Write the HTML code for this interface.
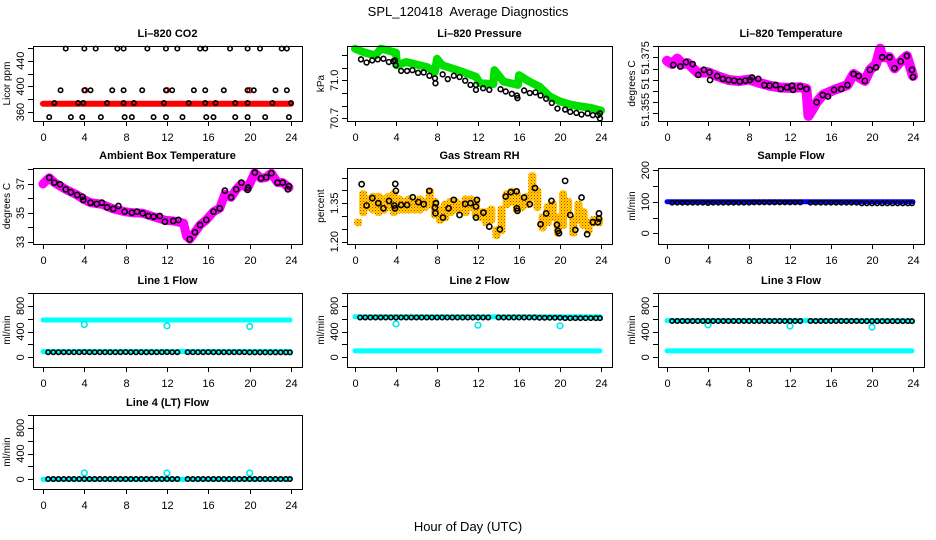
<!DOCTYPE html>
<html><head><meta charset="utf-8">
<style>
html,body{margin:0;padding:0;background:#fff;}
svg{display:block;font-family:"Liberation Sans",Arial,sans-serif;}
</style></head>
<body>
<svg id="chart" width="936" height="540" viewBox="0 0 936 540">
<defs>
<pattern id="rhpat" width="3" height="3" patternUnits="userSpaceOnUse">
<rect width="3" height="3" fill="#ffd400"/>
<rect x="0" y="0" width="1" height="1" fill="#e83000"/>
<rect x="1.5" y="1.5" width="1" height="1" fill="#f06000"/>
</pattern>
</defs>
<text x="468" y="16" text-anchor="middle" font-size="13">SPL_120418&#160; Average Diagnostics</text>
<text x="468" y="531" text-anchor="middle" font-size="13">Hour of Day (UTC)</text>
</svg>
<script>
// ---------- DATA ----------
const xTicks = [0,4,8,12,16,20,24];
// CO2
const co2RedBandStart = 0, co2RedBandEnd = 24, co2RedBandValue = 373;
const co2RedHours = [4.1,12.0,20.0];
const co2RedVals = [394,394,394];
const co2Hours = [2.2,4.0,5.1,7.2,7.8,10.1,11.9,13.0,15.2,15.7,18.1,19.8,21.0,23.1,23.6,
  1.7,4.0,4.6,6.7,7.8,9.6,11.9,12.5,14.6,15.7,17.5,19.8,20.4,22.5,23.6,
  0.6,2.7,3.8,5.6,7.9,8.6,10.7,11.9,13.5,15.8,16.5,18.6,19.8,21.5,23.8,
  1.1,3.4,3.9,6.2,7.8,8.8,11.7,14.1,15.7,16.7,18.6,19.8,22.2,24.0];
const co2Vals = [459,459,459,459,459,459,459,459,459,459,459,459,459,459,459,
  394,394,394,394,394,394,394,394,394,394,394,394,394,394,394,
  352,352,352,352,352,352,352,352,352,352,352,352,352,352,352,
  374,374,374,374,374,374,374,374,374,374,374,374,374,374];
// Pressure
const presGreenHours = [0,1,2,2.5,3,4,4.1,5,6,7,7.8,8,8.5,10,11.8,12.2,13.5,13.6,14.5,15.9,16,17,18,19,20,21,22,23,24];
const presGreenVals = [71.248,71.217,71.196,71.248,71.24,71.217,71.119,71.144,71.124,71.105,71.067,71.17,71.119,71.08,71.028,70.977,70.97,71.08,70.99,70.964,71.041,70.99,70.95,70.873,70.834,70.809,70.795,70.783,70.762];
const presHours = [0.58,1.13,1.68,2.22,2.77,3.3,3.74,3.9,3.97,4.5,5.08,5.6,6.15,6.7,7.26,7.8,7.85,8.55,9.05,9.64,10.2,10.75,11.27,11.8,11.8,12.5,13.1,14.2,14.7,15.3,15.8,15.85,16.5,17.05,17.6,18.1,18.65,19.2,19.75,20.5,21.0,21.6,22.1,22.7,23.2,23.7,23.9,23.9];
const presVals = [71.165,71.14,71.157,71.165,71.17,71.144,71.15,71.157,71.119,71.074,71.074,71.08,71.059,71.062,71.036,71.016,70.977,71.047,71.01,71.036,71.026,70.997,70.964,70.964,70.925,70.938,70.925,70.93,70.912,70.894,70.88,70.86,70.92,70.9,70.905,70.881,70.855,70.822,70.778,70.77,70.752,70.744,70.731,70.74,70.726,70.726,70.74,70.7];
// Li-820 temperature
const tempHours = [0.62,1.3,1.85,2.5,3.05,3.6,4.15,4.2,4.9,5.45,6.0,6.55,7.1,7.65,8.1,8.3,8.9,9.5,10.0,10.6,11.1,11.7,12.2,12.3,13.0,13.6,14.6,15.2,15.7,16.3,17.0,17.6,18.2,18.7,19.3,19.8,20.4,21.0,21.7,22.2,22.8,23.4,23.9,24.0];
const tempVals = [51.3716,51.3709,51.3729,51.372,51.3671,51.3694,51.3683,51.3648,51.3666,51.3653,51.3648,51.3645,51.3641,51.3645,51.3648,51.3659,51.3653,51.3625,51.3622,51.3625,51.3607,51.3614,51.3622,51.3603,51.3618,51.3607,51.3547,51.358,51.3573,51.3603,51.3607,51.3625,51.3675,51.3666,51.3644,51.3694,51.3705,51.3751,51.3751,51.3701,51.3732,51.3757,51.3694,51.3662];
const tempBandHours = [0,0.5,1.0,1.5,2.0,3.0,4.0,5.0,6.0,7.0,8.0,9.0,10.0,11.0,12.0,13.0,13.6,13.8,14.2,14.6,15.2,16.3,17.6,18.2,19.3,19.8,20.4,20.8,21.0,21.7,22.2,22.8,23.4,24.0];
const tempBandVals = [51.3735,51.372,51.3745,51.372,51.3725,51.368,51.3683,51.3664,51.3648,51.3643,51.365,51.3635,51.3622,51.3614,51.3612,51.3615,51.3608,51.3485,51.3515,51.3547,51.358,51.3603,51.3625,51.3675,51.3644,51.3694,51.372,51.379,51.3751,51.3751,51.3701,51.3732,51.3757,51.3666];
// Ambient box temperature
const ambHours = [0.61,1.1,1.65,2.2,2.7,3.3,3.83,3.9,4.6,5.2,5.7,6.2,6.8,7.3,7.9,8.6,9.1,9.65,10.2,10.7,11.3,11.8,12.6,13.1,14.2,14.7,15.2,15.8,16.5,17.1,17.6,18.2,18.7,19.2,19.8,19.85,20.5,21.1,21.6,22.1,22.7,23.2,23.7,23.8];
const ambVals = [37.43,37.09,36.98,36.63,36.43,36.24,36.12,35.9,35.71,35.62,35.71,35.39,35.28,35.48,35.09,35.02,35.09,34.98,34.79,34.74,34.79,34.4,34.45,34.52,33.19,33.67,34.17,34.52,35.09,35.32,36.54,36.08,36.63,37.09,36.59,36.75,37.78,37.39,37.46,37.74,37.09,37.09,36.63,36.85];
const ambBandHours = [0,0.4,0.61,1.1,2.2,3.3,3.9,4.6,5.7,6.8,7.9,8.6,9.65,10.7,11.8,12.6,13.6,13.9,14.2,14.7,15.2,15.8,16.5,17.1,17.6,18.2,18.7,19.2,19.8,20.5,21.1,21.6,22.1,22.7,23.2,23.8];
const ambBandVals = [37.0,37.3,37.43,37.09,36.63,36.24,35.95,35.71,35.6,35.28,35.09,35.02,34.98,34.74,34.5,34.45,34.3,33.4,33.19,33.67,34.17,34.52,35.09,35.32,36.3,36.08,36.63,37.0,36.7,37.78,37.39,37.46,37.74,37.1,37.09,36.75];
// Gas stream RH
const rhHours = [0.65,1.13,1.69,2.27,2.77,3.32,3.83,3.93,3.99,3.9,4.5,5.08,5.63,6.18,6.7,7.25,7.8,7.9,7.85,8.58,9.13,9.64,10.2,10.75,11.27,11.8,11.9,11.8,12.53,13.1,14.13,14.7,15.2,15.77,15.8,15.85,16.5,17.05,17.56,18.1,18.65,19.17,19.7,19.8,19.9,20.5,21.0,21.5,22.1,22.65,23.2,23.7,23.8,23.8];
const rhVals = [1.424,1.341,1.37,1.35,1.33,1.359,1.341,1.425,1.398,1.33,1.343,1.343,1.373,1.354,1.346,1.398,1.333,1.35,1.311,1.294,1.33,1.363,1.304,1.347,1.35,1.337,1.363,1.294,1.313,1.259,1.248,1.376,1.393,1.396,1.33,1.32,1.372,1.346,1.409,1.268,1.31,1.359,1.266,1.242,1.233,1.437,1.304,1.246,1.372,1.229,1.276,1.276,1.31,1.29];
const rhCloudHours = [0.3,0.8,1.3,1.8,2.3,2.8,3.3,3.8,4.3,4.8,5.3,5.8,6.3,6.8,7.3,7.8,8.3,8.8,9.3,9.8,10.3,10.8,11.3,11.8,12.3,12.8,13.3,13.8,14.3,14.8,15.3,15.8,16.3,16.8,17.3,17.8,18.3,18.8,19.3,19.8,20.3,20.8,21.3,21.8,22.3,22.8,23.3,23.8];
const rhCloudLo = [1.26,1.30,1.32,1.31,1.30,1.31,1.32,1.30,1.31,1.31,1.31,1.31,1.31,1.32,1.33,1.29,1.27,1.28,1.30,1.31,1.31,1.30,1.32,1.29,1.28,1.26,1.27,1.21,1.23,1.33,1.34,1.31,1.32,1.33,1.36,1.32,1.24,1.26,1.28,1.22,1.25,1.30,1.22,1.27,1.25,1.23,1.26,1.26];
const rhCloudHi = [1.29,1.40,1.38,1.39,1.39,1.38,1.39,1.40,1.38,1.37,1.38,1.37,1.38,1.37,1.41,1.37,1.34,1.36,1.37,1.37,1.36,1.38,1.38,1.37,1.33,1.33,1.34,1.26,1.34,1.40,1.41,1.40,1.38,1.39,1.47,1.41,1.31,1.35,1.36,1.31,1.40,1.37,1.30,1.36,1.33,1.29,1.30,1.30];
// Flows
const flowHours = [0.5,1.0,1.5,2.0,2.5,3.0,3.5,4.0,4.5,5.0,5.5,6.0,6.5,7.0,7.5,8.0,8.5,9.0,9.5,10.0,10.5,11.0,11.5,12.0,12.5,13.0,14.0,14.5,15.0,15.5,16.0,16.5,17.0,17.5,18.0,18.5,19.0,19.5,20.0,20.5,21.0,21.5,22.0,22.5,23.0,23.5,23.9];
const sampleVals = [97,97,97,97,97,97,97,96,97,97,97,97,97,97,97,97,98,98,98,98,98,98,98,98,98,98,97,97,97,97,97,97,97,97,97,97,95,95,95,95,95,95,95,95,95,95,95];
const line1Vals = [80,80,80,80,80,80,80,82,80,80,80,80,80,80,80,82,80,80,80,80,80,80,80,82,80,80,80,80,80,80,82,80,80,80,80,80,80,80,78,78,78,78,78,78,78,78,78];
const line2Vals = [620,620,620,620,620,620,620,620,620,620,620,620,620,620,620,620,620,620,620,620,620,620,620,620,620,620,620,620,620,620,620,620,620,620,615,615,615,615,615,610,610,610,610,610,610,610,610];
const line3Vals = [565,565,565,565,565,565,565,565,565,565,565,565,565,565,565,565,565,565,565,565,565,565,565,565,565,565,565,565,565,565,565,565,565,565,565,565,562,562,562,562,562,562,562,562,562,562,562];
const line4Vals = [5,5,5,5,5,5,5,5,5,5,5,5,5,5,5,5,5,5,5,5,5,5,5,5,5,5,5,5,5,5,5,5,5,5,5,5,5,5,5,5,5,5,5,5,5,5,5];
const sampleLineLevel = [100];
const line1CyanLevels = [580,90];
const line2CyanLevels = [630,100];
const line3CyanLevels = [570,100];
const line4CyanLevels = [0];
const outlierHours = [4,12,20];
const line1Outliers = [510,490,480];
const line2Outliers = [520,500,490];
const line3Outliers = [505,485,470];
const line4Outliers = [100,100,100];

// ---------- LAYOUT ----------
const svg = document.getElementById('chart');
const NS = 'http://www.w3.org/2000/svg';
const rowTop = [46,168,293,415], rowBot = [121,244,367,489];
const colL = [33,347,658], colR = [302,612,924], colX0 = [43,355,667], colX24 = [291,601,913];
function mk(tag, attrs, parent){const e=document.createElementNS(NS,tag);for(const k in attrs)e.setAttribute(k,attrs[k]);(parent||svg).appendChild(e);return e;}

function panel(id,title,row,col,ymin,ymax,yticks,ylabVals,ylabTexts,ylab){
  const g = mk('g',{});
  
  
  const L=colL[col],R=colR[col],T=rowTop[row],B=rowBot[row];
  const xs=h=>colX0[col]+(colX24[col]-colX0[col])*h/24;
  const ys=v=>B-(v-ymin)/(ymax-ymin)*(B-T);
  const t=mk('text',{x:(L+R)/2,y:T-9,'text-anchor':'middle','font-size':11,'font-weight':'bold'},g);
  t.textContent=title;
  
  
  const plot=mk('g',{},g);
  
  
  const frame=mk('rect',{x:L+0.5,y:T+0.5,width:R-L,height:B-T,fill:'none',stroke:'#000','stroke-width':1},g);
  
  
  const xa=mk('g',{},g);
  
  
  xTicks.forEach(h=>{const x=Math.round(xs(h))+0.5;
    mk('line',{x1:x,x2:x,y1:B,y2:B+5,stroke:'#000'},xa);
    const lt=mk('text',{x:x,y:B+20,'text-anchor':'middle','font-size':11},xa);lt.textContent=h;});
  mk('line',{x1:Math.round(xs(0))+0.5,x2:Math.round(xs(24))+0.5,y1:B+0.5,y2:B+0.5,stroke:'#000'},xa);
  const ya=mk('g',{},g);
  
  
  yticks.forEach(v=>{const y=Math.round(ys(v))+0.5;mk('line',{x1:L-5,x2:L,y1:y,y2:y,stroke:'#000'},ya);});
  ylabVals.forEach((v,i)=>{const y=ys(v);const lt=mk('text',{x:L-9,y:y,'text-anchor':'middle','font-size':11,transform:`rotate(-90 ${L-9} ${y})`},ya);lt.textContent=ylabTexts[i];});
  const yl=mk('text',{x:L-23,y:(T+B)/2,'text-anchor':'middle','font-size':10,transform:`rotate(-90 ${L-23} ${(T+B)/2})`},g);
  yl.textContent=ylab;
  
  
  return {plot,xs,ys};
}
function circles(p,hours,vals,color,name,r){
  const g=mk('g',{},p.plot);
  
  
  hours.forEach((h,i)=>{const c=mk('circle',{cx:p.xs(h),cy:p.ys(vals[i]),r:r||2.4,fill:'none',stroke:color,'stroke-width':1.6},g);
    
    });
}
function band(p,hours,vals,color,w,name){
  const pts=hours.map((h,i)=>p.xs(h)+','+p.ys(vals[i])).join(' ');
  const l=mk('polyline',{points:pts,fill:'none',stroke:color,'stroke-width':w,'stroke-linejoin':'round','stroke-linecap':'round'},p.plot);
  
  
}
function levels(p,lv,color,w,name,h0,h1){
  lv.forEach(v=>{const l=mk('line',{x1:p.xs(h0),x2:p.xs(h1),y1:p.ys(v),y2:p.ys(v),stroke:color,'stroke-width':w,'stroke-linecap':'round'},p.plot);
    
    });
}

// CO2
let p=panel('co2','Li\u2013820 CO2',0,0,346,463,[360,380,400,420,440,460],[360,400,440],['360','400','440'],'Licor ppm');
levels(p,[co2RedBandValue],'#ff0000',6,'co2-red-band',co2RedBandStart,co2RedBandEnd);
circles(p,co2RedHours,co2RedVals,'#ff0000','co2-red-points');
circles(p,co2Hours,co2Vals,'#000','co2-points',2.2);
// Pressure
p=panel('pressure','Li\u2013820 Pressure',0,1,70.68,71.27,[70.7,70.8,70.9,71.0,71.1,71.2],[70.7,71.0],['70.7','71.0'],'kPa');
band(p,presGreenHours,presGreenVals,'#00e000',8,'pressure-green-series');
circles(p,presHours,presVals,'#000','pressure-points');
// Li-820 temperature
p=panel('li820-temp','Li\u2013820 Temperature',0,2,51.3462,51.3802,[51.35,51.355,51.36,51.365,51.37,51.375,51.38],[51.3513,51.3632,51.3748],['51.355','51','51.375'],'degrees C');
band(p,tempBandHours,tempBandVals,'#ff00ff',10,'li820-temp-magenta-series');
circles(p,tempHours,tempVals,'#000','li820-temp-points',2.6);
// Ambient
p=panel('ambient-temp','Ambient Box Temperature',1,0,32.86,38.1,[33,34,35,36,37,38],[33,35,37],['33','35','37'],'degrees C');
band(p,ambBandHours,ambBandVals,'#ff00ff',9,'ambient-magenta-series');
circles(p,ambHours,ambVals,'#000','ambient-points',2.6);
// RH
p=panel('rh','Gas Stream RH',1,1,1.191,1.487,[1.20,1.25,1.30,1.35,1.40,1.45],[1.20,1.35],['1.20','1.35'],'percent');
(function(){const g=mk('g',{},p.plot);
  
  
  rhCloudHours.forEach((h,i)=>{const y1=p.ys(rhCloudHi[i]),y2=p.ys(rhCloudLo[i]);
    const r=mk('rect',{x:p.xs(h)-4,y:y1,width:8,height:y2-y1,rx:3,fill:'url(#rhpat)'},g);
    
    });})();
circles(p,rhHours,rhVals,'#000','rh-points',2.6);
// Sample flow
p=panel('sample-flow','Sample Flow',1,2,-34,207,[0,50,100,150,200],[0,100,200],['0','100','200'],'ml/min');
levels(p,sampleLineLevel,'#0000ff',5,'sample-flow-blue-line',0,24);
circles(p,flowHours,sampleVals,'#000','sample-flow-points',2.2);
// Lines
const flowTicks=[0,200,400,600,800,1000],flowLab=[0,400,800],flowLabT=['0','400','800'];
const lines=[['line1-flow','Line 1 Flow',2,0,line1CyanLevels,line1Vals,line1Outliers],
 ['line2-flow','Line 2 Flow',2,1,line2CyanLevels,line2Vals,line2Outliers],
 ['line3-flow','Line 3 Flow',2,2,line3CyanLevels,line3Vals,line3Outliers],
 ['line4-flow','Line 4 (LT) Flow',3,0,line4CyanLevels,line4Vals,line4Outliers]];
lines.forEach(c=>{
  const q=panel(c[0],c[1],c[2],c[3],-150,1000,flowTicks,flowLab,flowLabT,'ml/min');
  levels(q,c[4],'#00ffff',5,c[0]+'-cyan-line',0,23.9);
  circles(q,outlierHours,c[6],'#00e8e8',c[0]+'-outliers',2.8);
  circles(q,flowHours,c[5],'#000',c[0]+'-points',2.2);
});
</script>
</body></html>
